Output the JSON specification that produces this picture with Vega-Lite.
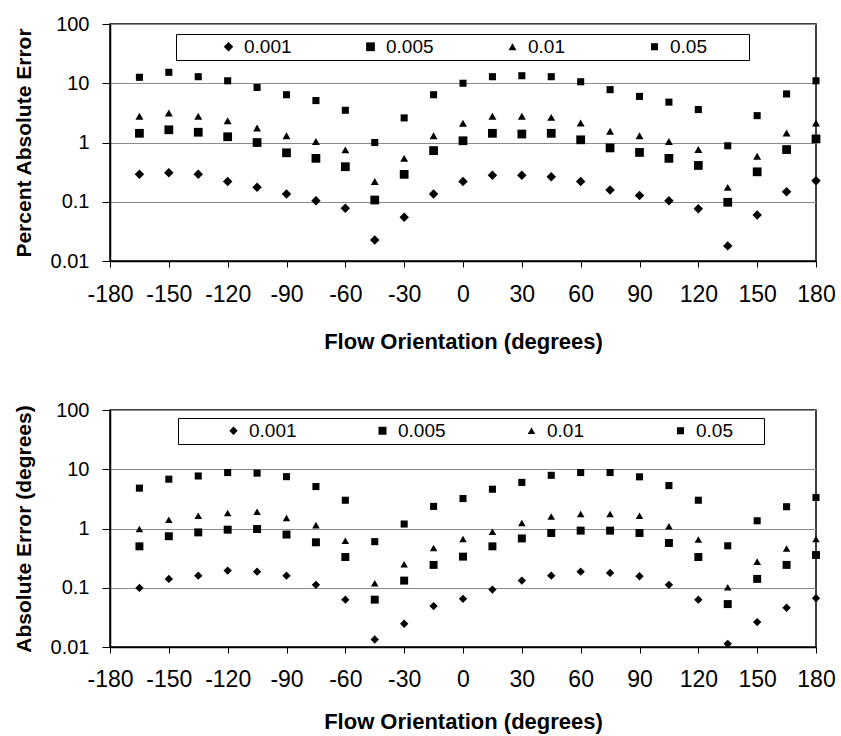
{
  "$schema": "https://vega.github.io/schema/vega-lite/v6.json",
  "background": "white",
  "padding": {"left": 12, "top": 13, "right": 5, "bottom": 3},
  "config": {
    "font": "Liberation Sans",
    "view": {"stroke": "black", "strokeWidth": 1.5},
    "axis": {
      "labelFont": "Liberation Sans", "labelColor": "black",
      "titleFont": "Liberation Sans", "titleFontWeight": "bold", "titleColor": "black",
      "domainColor": "black", "domainWidth": 1.5, "tickColor": "black",
      "gridColor": "#8a8a8a", "gridWidth": 1
    },
    "axisX": {"labelFontSize": 23, "titleFontSize": 22, "tickSize": 6, "labelPadding": 16, "titlePadding": 25, "labelOverlap": false, "labelFlush": false, "labelExpr": "datum.value + ''"},
    "axisY": {"labelFontSize": 20, "titleFontSize": 21, "tickSize": 8, "labelPadding": 13, "titlePadding": 16},
    "legend": {
      "orient": "none", "direction": "horizontal",
      "fillColor": "white", "strokeColor": "black", "padding": 3,
      "labelFont": "Liberation Sans", "labelFontSize": 19, "labelColor": "black", "labelOffset": 6,
      "titleFontSize": 19, "titleColor": "black",
      "symbolFillColor": "black", "symbolStrokeColor": "black",
      "gridAlign": "all", "symbolOffset": 40
    },
    "concat": {"spacing": 46}
  },
  "datasets": {
    "top": [
      {"x": -165, "s": "0.001", "y": 0.29}, {"x": -165, "s": "0.005", "y": 1.43}, {"x": -165, "s": "0.01", "y": 2.77}, {"x": -165, "s": "0.05", "y": 12.6},
      {"x": -150, "s": "0.001", "y": 0.31}, {"x": -150, "s": "0.005", "y": 1.64}, {"x": -150, "s": "0.01", "y": 3.15}, {"x": -150, "s": "0.05", "y": 15.3},
      {"x": -135, "s": "0.001", "y": 0.29}, {"x": -135, "s": "0.005", "y": 1.49}, {"x": -135, "s": "0.01", "y": 2.77}, {"x": -135, "s": "0.05", "y": 12.9},
      {"x": -120, "s": "0.001", "y": 0.22}, {"x": -120, "s": "0.005", "y": 1.25}, {"x": -120, "s": "0.01", "y": 2.33}, {"x": -120, "s": "0.05", "y": 11.0},
      {"x": -105, "s": "0.001", "y": 0.175}, {"x": -105, "s": "0.005", "y": 1.0}, {"x": -105, "s": "0.01", "y": 1.76}, {"x": -105, "s": "0.05", "y": 8.5},
      {"x": -90, "s": "0.001", "y": 0.135}, {"x": -90, "s": "0.005", "y": 0.67}, {"x": -90, "s": "0.01", "y": 1.3}, {"x": -90, "s": "0.05", "y": 6.4},
      {"x": -75, "s": "0.001", "y": 0.104}, {"x": -75, "s": "0.005", "y": 0.54}, {"x": -75, "s": "0.01", "y": 1.04}, {"x": -75, "s": "0.05", "y": 5.1},
      {"x": -60, "s": "0.001", "y": 0.078}, {"x": -60, "s": "0.005", "y": 0.39}, {"x": -60, "s": "0.01", "y": 0.75}, {"x": -60, "s": "0.05", "y": 3.5},
      {"x": -45, "s": "0.001", "y": 0.0226}, {"x": -45, "s": "0.005", "y": 0.107}, {"x": -45, "s": "0.01", "y": 0.22}, {"x": -45, "s": "0.05", "y": 1.0},
      {"x": -30, "s": "0.001", "y": 0.055}, {"x": -30, "s": "0.005", "y": 0.29}, {"x": -30, "s": "0.01", "y": 0.54}, {"x": -30, "s": "0.05", "y": 2.6},
      {"x": -15, "s": "0.001", "y": 0.135}, {"x": -15, "s": "0.005", "y": 0.73}, {"x": -15, "s": "0.01", "y": 1.3}, {"x": -15, "s": "0.05", "y": 6.4},
      {"x": 0, "s": "0.001", "y": 0.22}, {"x": 0, "s": "0.005", "y": 1.07}, {"x": 0, "s": "0.01", "y": 2.11}, {"x": 0, "s": "0.05", "y": 10.0},
      {"x": 15, "s": "0.001", "y": 0.28}, {"x": 15, "s": "0.005", "y": 1.43}, {"x": 15, "s": "0.01", "y": 2.77}, {"x": 15, "s": "0.05", "y": 12.9},
      {"x": 30, "s": "0.001", "y": 0.28}, {"x": 30, "s": "0.005", "y": 1.39}, {"x": 30, "s": "0.01", "y": 2.77}, {"x": 30, "s": "0.05", "y": 13.4},
      {"x": 45, "s": "0.001", "y": 0.265}, {"x": 45, "s": "0.005", "y": 1.43}, {"x": 45, "s": "0.01", "y": 2.66}, {"x": 45, "s": "0.05", "y": 12.9},
      {"x": 60, "s": "0.001", "y": 0.22}, {"x": 60, "s": "0.005", "y": 1.11}, {"x": 60, "s": "0.01", "y": 2.13}, {"x": 60, "s": "0.05", "y": 10.6},
      {"x": 75, "s": "0.001", "y": 0.158}, {"x": 75, "s": "0.005", "y": 0.81}, {"x": 75, "s": "0.01", "y": 1.55}, {"x": 75, "s": "0.05", "y": 7.8},
      {"x": 90, "s": "0.001", "y": 0.127}, {"x": 90, "s": "0.005", "y": 0.68}, {"x": 90, "s": "0.01", "y": 1.3}, {"x": 90, "s": "0.05", "y": 6.0},
      {"x": 105, "s": "0.001", "y": 0.104}, {"x": 105, "s": "0.005", "y": 0.54}, {"x": 105, "s": "0.01", "y": 1.04}, {"x": 105, "s": "0.05", "y": 4.8},
      {"x": 120, "s": "0.001", "y": 0.076}, {"x": 120, "s": "0.005", "y": 0.41}, {"x": 120, "s": "0.01", "y": 0.76}, {"x": 120, "s": "0.05", "y": 3.6},
      {"x": 135, "s": "0.001", "y": 0.018}, {"x": 135, "s": "0.005", "y": 0.098}, {"x": 135, "s": "0.01", "y": 0.175}, {"x": 135, "s": "0.05", "y": 0.88},
      {"x": 150, "s": "0.001", "y": 0.06}, {"x": 150, "s": "0.005", "y": 0.32}, {"x": 150, "s": "0.01", "y": 0.585}, {"x": 150, "s": "0.05", "y": 2.84},
      {"x": 165, "s": "0.001", "y": 0.148}, {"x": 165, "s": "0.005", "y": 0.76}, {"x": 165, "s": "0.01", "y": 1.45}, {"x": 165, "s": "0.05", "y": 6.6},
      {"x": 180, "s": "0.001", "y": 0.227}, {"x": 180, "s": "0.005", "y": 1.15}, {"x": 180, "s": "0.01", "y": 2.13}, {"x": 180, "s": "0.05", "y": 11.0}
    ],
    "bottom": [
      {"x": -165, "s": "0.001", "y": 0.0995}, {"x": -165, "s": "0.005", "y": 0.5}, {"x": -165, "s": "0.01", "y": 0.98}, {"x": -165, "s": "0.05", "y": 4.8},
      {"x": -150, "s": "0.001", "y": 0.141}, {"x": -150, "s": "0.005", "y": 0.74}, {"x": -150, "s": "0.01", "y": 1.41}, {"x": -150, "s": "0.05", "y": 6.8},
      {"x": -135, "s": "0.001", "y": 0.16}, {"x": -135, "s": "0.005", "y": 0.86}, {"x": -135, "s": "0.01", "y": 1.64}, {"x": -135, "s": "0.05", "y": 7.7},
      {"x": -120, "s": "0.001", "y": 0.195}, {"x": -120, "s": "0.005", "y": 0.955}, {"x": -120, "s": "0.01", "y": 1.82}, {"x": -120, "s": "0.05", "y": 8.8},
      {"x": -105, "s": "0.001", "y": 0.187}, {"x": -105, "s": "0.005", "y": 0.98}, {"x": -105, "s": "0.01", "y": 1.92}, {"x": -105, "s": "0.05", "y": 8.6},
      {"x": -90, "s": "0.001", "y": 0.16}, {"x": -90, "s": "0.005", "y": 0.79}, {"x": -90, "s": "0.01", "y": 1.5}, {"x": -90, "s": "0.05", "y": 7.5},
      {"x": -75, "s": "0.001", "y": 0.112}, {"x": -75, "s": "0.005", "y": 0.585}, {"x": -75, "s": "0.01", "y": 1.14}, {"x": -75, "s": "0.05", "y": 5.1},
      {"x": -60, "s": "0.001", "y": 0.063}, {"x": -60, "s": "0.005", "y": 0.33}, {"x": -60, "s": "0.01", "y": 0.62}, {"x": -60, "s": "0.05", "y": 3.0},
      {"x": -45, "s": "0.001", "y": 0.0134}, {"x": -45, "s": "0.005", "y": 0.063}, {"x": -45, "s": "0.01", "y": 0.119}, {"x": -45, "s": "0.05", "y": 0.6},
      {"x": -30, "s": "0.001", "y": 0.0247}, {"x": -30, "s": "0.005", "y": 0.132}, {"x": -30, "s": "0.01", "y": 0.25}, {"x": -30, "s": "0.05", "y": 1.19},
      {"x": -15, "s": "0.001", "y": 0.049}, {"x": -15, "s": "0.005", "y": 0.243}, {"x": -15, "s": "0.01", "y": 0.47}, {"x": -15, "s": "0.05", "y": 2.36},
      {"x": 0, "s": "0.001", "y": 0.065}, {"x": 0, "s": "0.005", "y": 0.335}, {"x": 0, "s": "0.01", "y": 0.665}, {"x": 0, "s": "0.05", "y": 3.2},
      {"x": 15, "s": "0.001", "y": 0.093}, {"x": 15, "s": "0.005", "y": 0.5}, {"x": 15, "s": "0.01", "y": 0.88}, {"x": 15, "s": "0.05", "y": 4.6},
      {"x": 30, "s": "0.001", "y": 0.132}, {"x": 30, "s": "0.005", "y": 0.68}, {"x": 30, "s": "0.01", "y": 1.24}, {"x": 30, "s": "0.05", "y": 6.0},
      {"x": 45, "s": "0.001", "y": 0.16}, {"x": 45, "s": "0.005", "y": 0.84}, {"x": 45, "s": "0.01", "y": 1.6}, {"x": 45, "s": "0.05", "y": 7.9},
      {"x": 60, "s": "0.001", "y": 0.187}, {"x": 60, "s": "0.005", "y": 0.92}, {"x": 60, "s": "0.01", "y": 1.75}, {"x": 60, "s": "0.05", "y": 8.8},
      {"x": 75, "s": "0.001", "y": 0.178}, {"x": 75, "s": "0.005", "y": 0.92}, {"x": 75, "s": "0.01", "y": 1.75}, {"x": 75, "s": "0.05", "y": 8.8},
      {"x": 90, "s": "0.001", "y": 0.156}, {"x": 90, "s": "0.005", "y": 0.84}, {"x": 90, "s": "0.01", "y": 1.64}, {"x": 90, "s": "0.05", "y": 7.45},
      {"x": 105, "s": "0.001", "y": 0.112}, {"x": 105, "s": "0.005", "y": 0.57}, {"x": 105, "s": "0.01", "y": 1.09}, {"x": 105, "s": "0.05", "y": 5.3},
      {"x": 120, "s": "0.001", "y": 0.063}, {"x": 120, "s": "0.005", "y": 0.33}, {"x": 120, "s": "0.01", "y": 0.65}, {"x": 120, "s": "0.05", "y": 3.0},
      {"x": 135, "s": "0.001", "y": 0.0113}, {"x": 135, "s": "0.005", "y": 0.053}, {"x": 135, "s": "0.01", "y": 0.102}, {"x": 135, "s": "0.05", "y": 0.51},
      {"x": 150, "s": "0.001", "y": 0.0263}, {"x": 150, "s": "0.005", "y": 0.141}, {"x": 150, "s": "0.01", "y": 0.276}, {"x": 150, "s": "0.05", "y": 1.35},
      {"x": 165, "s": "0.001", "y": 0.046}, {"x": 165, "s": "0.005", "y": 0.243}, {"x": 165, "s": "0.01", "y": 0.46}, {"x": 165, "s": "0.05", "y": 2.33},
      {"x": 180, "s": "0.001", "y": 0.0667}, {"x": 180, "s": "0.005", "y": 0.357}, {"x": 180, "s": "0.01", "y": 0.665}, {"x": 180, "s": "0.05", "y": 3.34}
    ]
  },
  "vconcat": [
    {
      "data": {"name": "top"},
      "width": 706, "height": 237,
      "mark": {"type": "point", "filled": true, "color": "black", "opacity": 1},
      "encoding": {
        "x": {"field": "x", "type": "quantitative", "scale": {"domain": [-180, 180], "nice": false},
          "axis": {"values": [-180, -150, -120, -90, -60, -30, 0, 30, 60, 90, 120, 150, 180], "title": "Flow Orientation (degrees)", "grid": false}},
        "y": {"field": "y", "type": "quantitative", "scale": {"type": "log", "domain": [0.01, 100]},
          "axis": {"values": [0.01, 0.1, 1, 10, 100], "format": "~g", "title": "Percent Absolute Error", "grid": true}},
        "shape": {"field": "s", "type": "nominal", "scale": {"domain": ["0.001", "0.005", "0.01", "0.05"], "range": ["diamond", "square", "triangle-up", "square"]},
          "legend": {"legendX": 66, "legendY": 10, "columnPadding": 29, "title": "\u2800", "titleOrient": "right", "titlePadding": 25}},
        "size": {"field": "s", "type": "nominal", "scale": {"domain": ["0.001", "0.005", "0.01", "0.05"], "range": [90, 50, 110, 125]},
          "legend": {"legendX": 66, "legendY": 10, "columnPadding": 29, "title": "\u2800", "titleOrient": "right", "titlePadding": 25}}
      }
    },
    {
      "data": {"name": "bottom"},
      "width": 706, "height": 237,
      "mark": {"type": "point", "filled": true, "color": "black", "opacity": 1},
      "encoding": {
        "x": {"field": "x", "type": "quantitative", "scale": {"domain": [-180, 180], "nice": false},
          "axis": {"values": [-180, -150, -120, -90, -60, -30, 0, 30, 60, 90, 120, 150, 180], "title": "Flow Orientation (degrees)", "grid": false, "labelPadding": 15, "titlePadding": 20}},
        "y": {"field": "y", "type": "quantitative", "scale": {"type": "log", "domain": [0.01, 100]},
          "axis": {"values": [0.01, 0.1, 1, 10, 100], "format": "~g", "title": "Absolute Error (degrees)", "grid": true}},
        "shape": {"field": "s", "type": "nominal", "scale": {"domain": ["0.001", "0.005", "0.01", "0.05"], "range": ["diamond", "square", "triangle-up", "square"]},
          "legend": {"legendX": 68, "legendY": 8, "columnPadding": 33, "symbolOffset": 43, "title": "\u2800", "titleOrient": "right", "titlePadding": 14}},
        "size": {"field": "s", "type": "nominal", "scale": {"domain": ["0.001", "0.005", "0.01", "0.05"], "range": [70, 50, 110, 125]},
          "legend": {"legendX": 68, "legendY": 8, "columnPadding": 33, "symbolOffset": 43, "title": "\u2800", "titleOrient": "right", "titlePadding": 14}}
      }
    }
  ],
  "resolve": {"scale": {"shape": "independent", "size": "independent"}, "legend": {"shape": "independent", "size": "independent"}}
}
